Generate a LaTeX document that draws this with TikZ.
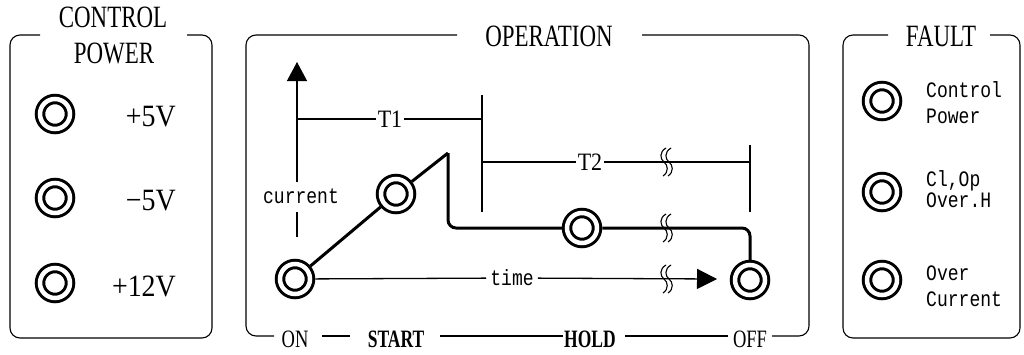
\documentclass[tikz,border=0pt]{standalone}
\usepackage{fontspec}
\setmainfont{Liberation Serif}
\newfontfamily\condf[FakeStretch=0.74]{Liberation Serif}
\newfontfamily\voltf[FakeStretch=0.9]{Liberation Serif}
\newfontfamily\midf[FakeStretch=0.88]{Liberation Serif}
\newfontfamily\condbf[FakeStretch=0.7]{Liberation Serif}
\newfontfamily\monof[FakeStretch=0.82]{Liberation Mono}
\usetikzlibrary{arrows.meta}
\tikzset{
  lamp/.style={circle, draw, double=white, double distance=4.5pt, line width=3pt,
    minimum size=30pt, inner sep=0pt, outer sep=5.25pt},
  ln/.style={line width=1.3pt},
  heavy/.style={line width=3pt},
  border/.style={line width=1.1pt, rounded corners=10pt},
  bigtxt/.style={font=\condf\fontsize{31}{32}\selectfont, inner sep=0pt},
  volt/.style={font=\voltf\fontsize{31}{32}\selectfont, inner sep=0pt, anchor=east},
  midtxt/.style={font=\midf\fontsize{25}{26}\selectfont, inner sep=2pt},
  bottxt/.style={font=\condf\fontsize{25}{26}\selectfont, inner sep=0pt},
  botbf/.style={font=\condbf\bfseries\fontsize{25}{26}\selectfont, inner sep=0pt},
  smalltxt/.style={font=\monof\fontsize{22}{25}\selectfont, inner sep=4pt},
  faulttxt/.style={font=\monof\fontsize{22}{26}\selectfont, inner sep=0pt, anchor=west, align=left},
  squig/.pic={
    \draw[line width=1.1pt] (-1,-14) .. controls (-8,-10) and (-7,-3) .. (-3,0) .. controls (1,3) and (2,10) .. (-4,14);
    \draw[line width=1.1pt] (4,-14) .. controls (-3,-10) and (-2,-3) .. (2,0) .. controls (6,3) and (7,10) .. (1,14);
  }
}
\begin{document}
\begin{tikzpicture}[x=1pt,y=-1pt]
\useasboundingbox[fill=white] (0,0) rectangle (1024,354);

% ---------- CONTROL POWER panel ----------
\draw[border] (40,35) -- (10,35) -- (10,338) -- (212,338) -- (212,35) -- (187,35);
\node[bigtxt] (cp1) at (113,17) {CONTROL};
\node[bigtxt] (cp2) at (114,53) {POWER};
\node[lamp] (p5) at (55,114) {};
\node[lamp] (m5) at (55,198) {};
\node[lamp] (p12) at (55,283) {};
\node[volt] (tp5) at (176,117) {+5V};
\node[volt] (tm5) at (176,201) {−5V};
\node[volt] (tp12) at (176,286) {+12V};

% ---------- OPERATION panel ----------
\draw[border] (457,35) -- (246,35) -- (246,336) -- (274,336);
\draw[border] (322,336) -- (350,336);
\draw[border] (440,336) -- (563,336);
\draw[border] (625,336) -- (728,336);
\draw[border] (772,336) -- (809,336) -- (809,35) -- (642,35);
\node[bigtxt] (op) at (549,36) {OPERATION};
\node[bottxt] (lon) at (295,339) {ON};
\node[botbf] (lstart) at (396,339) {START};
\node[botbf] (lhold) at (590,339) {HOLD};
\node[bottxt] (loff) at (750,339) {OFF};

% axis
\coordinate (axb) at (297,237);
\coordinate (axm1) at (297,212);
\coordinate (axm2) at (297,182);
\coordinate (axt) at (297,62);
\node[smalltxt] (cur) at (301,196) {current};
\draw[ln] (axb) -- (axm1);
\draw[ln, -{Triangle[length=19pt,width=20pt]}] (axm2) -- (axt);

% T1
\coordinate (t1l) at (297,119);
\coordinate (t1r) at (482,119);
\node[midtxt] (t1) at (390,119) {T1};
\draw[ln] (t1l) -- (t1);
\draw[ln] (t1) -- (t1r);
\coordinate (v1t) at (482,95);
\coordinate (v1b) at (482,212);
\draw[ln] (v1t) -- (v1b);

% T2
\coordinate (t2l) at (482,162);
\coordinate (t2r) at (750,162);
\node[midtxt] (t2) at (590,162) {T2};
\draw[ln] (t2l) -- (t2);
\draw[ln] (t2) -- (t2r);
\coordinate (v2t) at (750,145);
\coordinate (v2b) at (750,212);
\draw[ln] (v2t) -- (v2b);
\pic at (667,162) {squig};

% lamps
\node[lamp] (on) at (295,279) {};
\node[lamp] (start) at (396,194) {};
\node[lamp] (hold) at (582,228) {};
\node[lamp] (off) at (750,280) {};
\coordinate (peak) at (448,153);

% current trace
\draw[heavy] (on) -- (start) -- (peak);
\draw[heavy, rounded corners=8pt] (peak) |- (hold);
\draw[heavy, rounded corners=8pt] (hold) -| (off);
\pic at (667,228) {squig};

% time axis
\node[smalltxt] (time) at (512,278) {time};
\coordinate (tip) at (717,279);
\draw[ln] (on) -- (time);
\draw[ln, -{Triangle[length=20pt,width=20pt]}] (time) -- (tip);
\pic at (667,279) {squig};

% ---------- FAULT panel ----------
\draw[border] (888,35) -- (843,35) -- (843,338) -- (1020,338) -- (1020,35) -- (990,35);
\node[bigtxt] (ft) at (941,36) {FAULT};
\node[lamp] (f1) at (882,101) {};
\node[lamp] (f2) at (882,192) {};
\node[lamp] (f3) at (882,280) {};
\node[faulttxt] (ft1) at (926,103) {Control\\Power};
\node[faulttxt, font=\monof\fontsize{22}{21}\selectfont] (ft2) at (926,189) {Cl,Op\\Over.H};
\node[faulttxt] (ft3) at (926,286) {Over\\Current};
\end{tikzpicture}
\end{document}
